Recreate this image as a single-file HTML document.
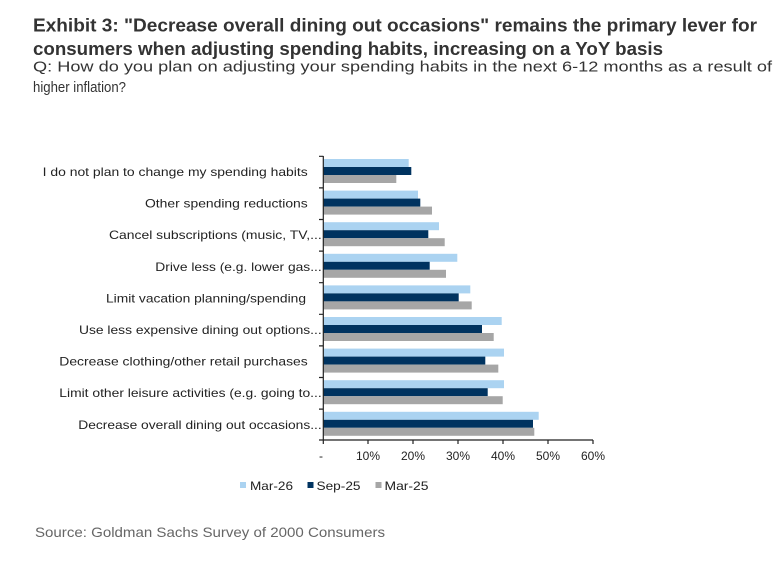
<!DOCTYPE html>
<html><head><meta charset="utf-8"><style>
html,body{margin:0;padding:0;background:#fff;width:783px;height:577px;overflow:hidden}
svg{display:block}
</style></head><body>
<svg width="783" height="577" viewBox="0 0 783 577" xmlns="http://www.w3.org/2000/svg">
<rect width="783" height="577" fill="#fff"/>
<g font-family="Liberation Sans, Arial, sans-serif">
<text x="33" y="31.5" font-size="18" font-weight="bold" fill="#333" textLength="724" lengthAdjust="spacingAndGlyphs">Exhibit 3: "Decrease overall dining out occasions" remains the primary lever for</text>
<text x="33" y="55" font-size="18" font-weight="bold" fill="#333" textLength="630" lengthAdjust="spacingAndGlyphs">consumers when adjusting spending habits, increasing on a YoY basis</text>
<text x="33" y="71.5" font-size="15" fill="#333" textLength="739" lengthAdjust="spacingAndGlyphs">Q: How do you plan on adjusting your spending habits in the next 6-12 months as a result of</text>
<text x="33" y="92" font-size="15" fill="#333" textLength="93" lengthAdjust="spacingAndGlyphs">higher inflation?</text>
<text x="35" y="537" font-size="14" fill="#666" textLength="350" lengthAdjust="spacingAndGlyphs">Source: Goldman Sachs Survey of 2000 Consumers</text>
</g>
<g font-family="Liberation Sans, Arial, sans-serif" font-size="12" fill="#222">
<text x="42.7" y="176" textLength="265" lengthAdjust="spacingAndGlyphs">I do not plan to change my spending habits</text>
<text x="145" y="207.6" textLength="162.7" lengthAdjust="spacingAndGlyphs">Other spending reductions</text>
<text x="109" y="239.2" textLength="212.7" lengthAdjust="spacingAndGlyphs">Cancel subscriptions (music, TV,...</text>
<text x="155.3" y="270.8" textLength="166.4" lengthAdjust="spacingAndGlyphs">Drive less (e.g. lower gas...</text>
<text x="106" y="302.4" textLength="200" lengthAdjust="spacingAndGlyphs">Limit vacation planning/spending</text>
<text x="79" y="334" textLength="242.7" lengthAdjust="spacingAndGlyphs">Use less expensive dining out options...</text>
<text x="59.3" y="365.6" textLength="248.4" lengthAdjust="spacingAndGlyphs">Decrease clothing/other retail purchases</text>
<text x="59.3" y="397.2" textLength="262.4" lengthAdjust="spacingAndGlyphs">Limit other leisure activities (e.g. going to...</text>
<text x="78.3" y="428.8" textLength="243.4" lengthAdjust="spacingAndGlyphs">Decrease overall dining out occasions...</text>
</g>
<g id="bars">
<g fill="#abd3f1">
<rect x="323.5" y="159" width="85.2" height="8"/>
<rect x="323.5" y="190.6" width="94.5" height="8"/>
<rect x="323.5" y="222.2" width="115.5" height="8"/>
<rect x="323.5" y="253.8" width="133.8" height="8"/>
<rect x="323.5" y="285.4" width="146.8" height="8"/>
<rect x="323.5" y="317" width="178.2" height="8"/>
<rect x="323.5" y="348.6" width="180.5" height="8"/>
<rect x="323.5" y="380.2" width="180.5" height="8"/>
<rect x="323.5" y="411.8" width="215.2" height="8"/>
</g>
<g fill="#003360">
<rect x="323.5" y="167" width="87.8" height="8"/>
<rect x="323.5" y="198.6" width="96.8" height="8"/>
<rect x="323.5" y="230.2" width="104.8" height="8"/>
<rect x="323.5" y="261.8" width="106.2" height="8"/>
<rect x="323.5" y="293.4" width="135.2" height="8"/>
<rect x="323.5" y="325" width="158.5" height="8"/>
<rect x="323.5" y="356.6" width="161.8" height="8"/>
<rect x="323.5" y="388.2" width="164.2" height="8"/>
<rect x="323.5" y="419.8" width="209.5" height="8"/>
</g>
<g fill="#a6a6a6">
<rect x="323.5" y="175" width="72.8" height="8"/>
<rect x="323.5" y="206.6" width="108.5" height="8"/>
<rect x="323.5" y="238.2" width="121.2" height="8"/>
<rect x="323.5" y="269.8" width="122.5" height="8"/>
<rect x="323.5" y="301.4" width="148.2" height="8"/>
<rect x="323.5" y="333" width="170.2" height="8"/>
<rect x="323.5" y="364.6" width="174.8" height="8"/>
<rect x="323.5" y="396.2" width="179.2" height="8"/>
<rect x="323.5" y="427.8" width="210.8" height="8"/>
</g>
</g>
<g stroke="#222" stroke-width="1.2" fill="none">
<line x1="323.3" y1="156" x2="323.3" y2="440.5"/>
<line x1="323" y1="440" x2="593" y2="440"/>
<path d="M319 156.3H323.3M319 187.9H323.3M319 219.5H323.3M319 251.1H323.3M319 282.7H323.3M319 314.3H323.3M319 345.9H323.3M319 377.5H323.3M319 409.1H323.3M319 440H323.3"/>
<path d="M323.3 440V444M368 440V444M413 440V444M458 440V444M503 440V444M548 440V444M593 440V444"/>
</g>
<g font-family="Liberation Sans, Arial, sans-serif" font-size="12" fill="#222" text-anchor="middle">
<text x="321" y="460">-</text>
<text x="368" y="460">10%</text>
<text x="413" y="460">20%</text>
<text x="458" y="460">30%</text>
<text x="503" y="460">40%</text>
<text x="548" y="460">50%</text>
<text x="593" y="460">60%</text>
</g>
<g font-family="Liberation Sans, Arial, sans-serif" font-size="12" fill="#222">
<rect x="240" y="482" width="6" height="6" fill="#abd3f1"/>
<text x="250" y="490" textLength="43" lengthAdjust="spacingAndGlyphs">Mar-26</text>
<rect x="307.5" y="482" width="6" height="6" fill="#003360"/>
<text x="316.5" y="490" textLength="44" lengthAdjust="spacingAndGlyphs">Sep-25</text>
<rect x="375.5" y="482" width="6" height="6" fill="#a6a6a6"/>
<text x="384.5" y="490" textLength="44" lengthAdjust="spacingAndGlyphs">Mar-25</text>
</g>
</svg>
</body></html>
